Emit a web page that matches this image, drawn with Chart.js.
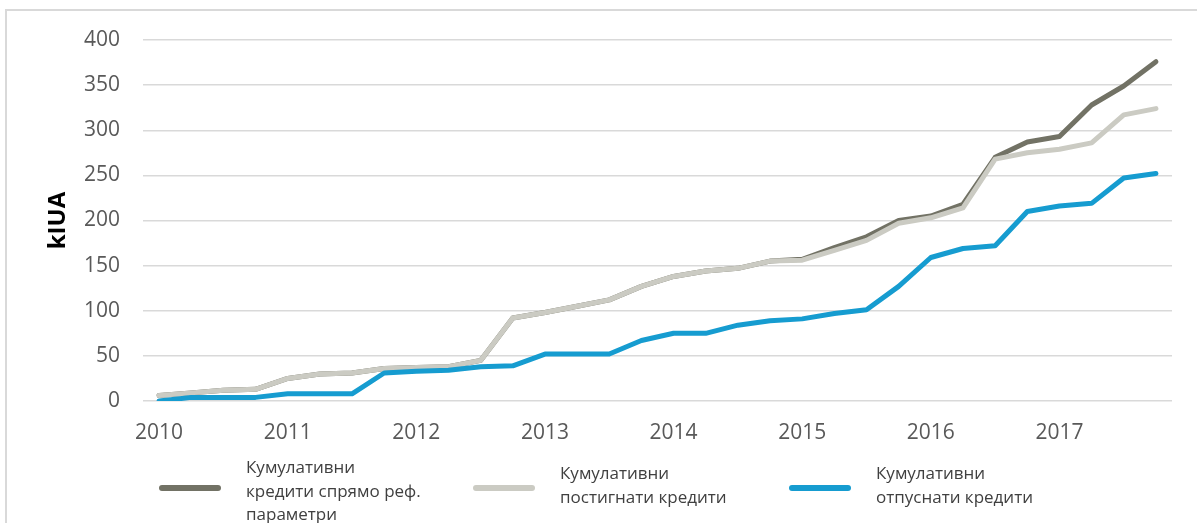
<!DOCTYPE html>
<html lang="sr">
<head>
<meta charset="utf-8">
<title>Кумулативни кредити</title>
<script src="https://cdn.jsdelivr.net/npm/chart.js@4.4.1/dist/chart.umd.min.js"></script>
<style>
    html, body { margin: 0; padding: 0; background: #ffffff; }
    #wrap { position: relative; width: 1197px; height: 523px; }
</style>
</head>
<body>
<div id="wrap"><canvas id="credits-chart"></canvas></div>
<script>
// Podaci sa grafikona (kvartalno, 2010 - 2017)
const quarters = [
    '2010 Q1', '2010 Q2', '2010 Q3', '2010 Q4',
    '2011 Q1', '2011 Q2', '2011 Q3', '2011 Q4',
    '2012 Q1', '2012 Q2', '2012 Q3', '2012 Q4',
    '2013 Q1', '2013 Q2', '2013 Q3', '2013 Q4',
    '2014 Q1', '2014 Q2', '2014 Q3', '2014 Q4',
    '2015 Q1', '2015 Q2', '2015 Q3', '2015 Q4',
    '2016 Q1', '2016 Q2', '2016 Q3', '2016 Q4',
    '2017 Q1', '2017 Q2', '2017 Q3', '2017 Q4'
];
const yearLabels = ['2010', '2011', '2012', '2013', '2014', '2015', '2016', '2017'];

const referenceCredits = [6, 9, 12, 13, 25, 30, 31, 36, 37, 38, 45, 92, 98, 105, 112, 127,
    138, 144, 147, 155, 157, 170, 182, 200, 205, 218, 270, 287, 293, 328, 349, 376];
const achievedCredits = [6, 9, 12, 13, 25, 30, 31, 36, 37, 38, 45, 92, 98, 105, 112, 127,
    138, 144, 147, 155, 156, 167, 178, 197, 203, 214, 268, 275, 279, 286, 317, 324];
const releasedCredits = [0, 4, 4, 4, 8, 8, 8, 31, 33, 34, 38, 39, 52, 52, 52, 67,
    75, 75, 84, 89, 91, 97, 101, 127, 159, 169, 172, 210, 216, 219, 247, 252];

const seriesNames = [
    ['Кумулативни', 'кредити спрямо реф.', 'параметри'],
    ['Кумулативни', 'постигнати кредити'],
    ['Кумулативни', 'отпуснати кредити']
];
const yTicks = [0, 50, 100, 150, 200, 250, 300, 350, 400];

const FONT = '"Open Sans", "Noto Sans", sans-serif';

/**
 * Okvir oko celog grafikona
 */
const framePlugin = {
    id: 'frame',
    beforeDraw(chart) {
        const ctx = chart.ctx;
        ctx.save();
        ctx.strokeStyle = '#d9d9d9';
        ctx.lineWidth = 2;
        ctx.strokeRect(6, 10, chart.width + 20, chart.height + 20);
        ctx.restore();
    }
};

/**
 * Legenda ispod grafikona (tekst u više redova)
 */
const legendPlugin = {
    id: 'multiLegend',
    afterDraw(chart, args, opts) {
        const ctx = chart.ctx;
        const lineH = 23.7;
        ctx.save();
        ctx.font = '17px ' + FONT;
        ctx.fillStyle = '#404040';
        ctx.textAlign = 'left';
        ctx.textBaseline = 'alphabetic';
        chart.data.datasets.forEach(function(ds, i) {
            const x = opts.starts[i];
            // simbol linije
            ctx.strokeStyle = ds.borderColor;
            ctx.lineWidth = 6;
            ctx.lineCap = 'round';
            ctx.beginPath();
            ctx.moveTo(x, opts.symbolY);
            ctx.lineTo(x + 56, opts.symbolY);
            ctx.stroke();
            // tekst
            const lines = ds.legendText;
            const first = lines.length > 2 ? opts.firstBaseline3 : opts.firstBaseline2;
            lines.forEach(function(line, k) {
                ctx.fillText(line, x + 84, first + k * lineH);
            });
        });
        ctx.restore();
    }
};

const ctx = document.getElementById('credits-chart').getContext('2d');

new Chart(ctx, {
    type: 'line',
    data: {
        labels: quarters,
        datasets: [{
            label: seriesNames[0].join(' '),
            legendText: seriesNames[0],
            data: referenceCredits,
            borderColor: '#727265',
            order: 3
        }, {
            label: seriesNames[1].join(' '),
            legendText: seriesNames[1],
            data: achievedCredits,
            borderColor: '#cbcbc3',
            order: 2
        }, {
            label: seriesNames[2].join(' '),
            legendText: seriesNames[2],
            data: releasedCredits,
            borderColor: '#169cd0',
            order: 1
        }]
    },
    options: {
        responsive: true,
        maintainAspectRatio: false,
        animation: false,
        layout: {
            padding: { left: 0, right: 25, top: 40, bottom: 0 }
        },
        elements: {
            line: {
                borderWidth: 5,
                tension: 0,
                borderCapStyle: 'round',
                borderJoinStyle: 'round',
                fill: false
            },
            point: { radius: 0, hoverRadius: 0 }
        },
        plugins: {
            legend: { display: false },
            tooltip: { enabled: false },
            multiLegend: {
                starts: [162, 476, 792],
                symbolY: 488,
                firstBaseline3: 473,
                firstBaseline2: 479
            }
        },
        scales: {
            x: {
                offset: true,
                grid: { display: false, drawTicks: false },
                border: { display: false },
                ticks: {
                    autoSkip: false,
                    maxRotation: 0,
                    padding: 19,
                    color: '#595959',
                    font: { family: FONT, size: 21 },
                    callback: function(value, index) {
                        return index % 4 === 0 ? yearLabels[index / 4] : '';
                    }
                },
                afterFit: function(scale) {
                    scale.height = 122;
                }
            },
            y: {
                min: 0,
                max: 400,
                afterBuildTicks: function(scale) {
                    scale.ticks = yTicks.map(v => ({ value: v }));
                },
                grid: {
                    color: '#d9d9d9',
                    lineWidth: 1.5,
                    drawTicks: false
                },
                border: { display: false },
                ticks: {
                    padding: 23,
                    color: '#595959',
                    font: { family: FONT, size: 21 }
                },
                title: {
                    display: true,
                    text: 'kIUA',
                    color: '#000000',
                    font: { family: FONT, size: 24, weight: 'bold' },
                    padding: { top: 44, bottom: 0 }
                },
                afterFit: function(scale) {
                    scale.width = 143;
                }
            }
        }
    },
    plugins: [framePlugin, legendPlugin]
});
</script>
</body>
</html>
